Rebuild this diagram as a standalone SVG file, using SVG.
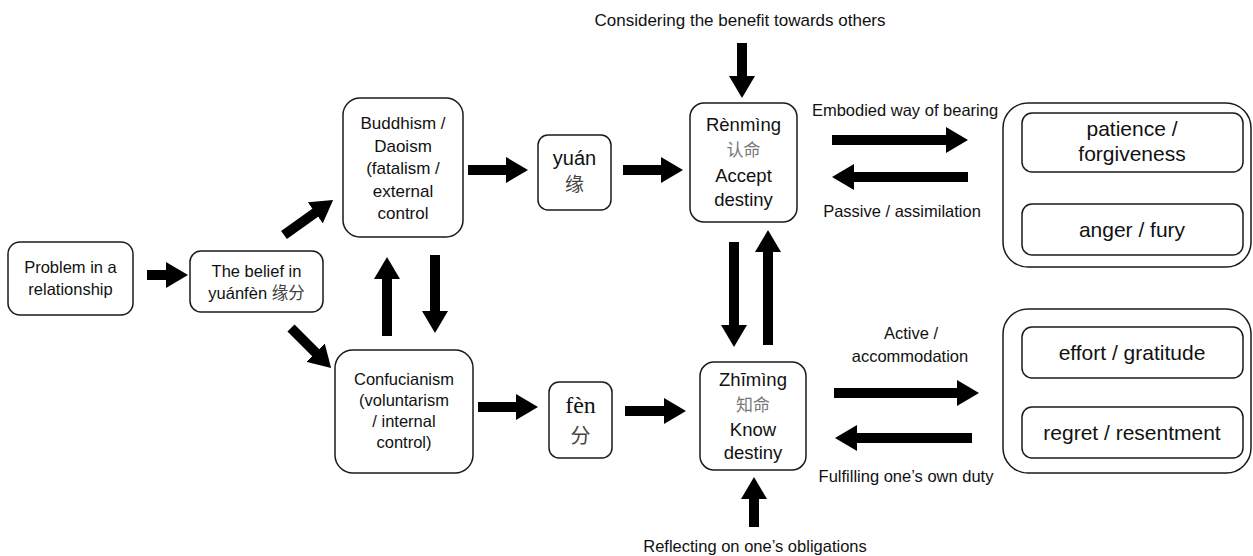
<svg xmlns="http://www.w3.org/2000/svg" width="1253" height="556" viewBox="0 0 1253 556">
<style>
.box{fill:#fff;stroke:#1a1a1a;stroke-width:1.5}
.t{font-family:"Liberation Sans",Arial,sans-serif;fill:#111;text-anchor:middle}
.cn{font-family:"Noto Sans CJK SC",sans-serif;text-anchor:middle}
.a{stroke:#000;stroke-width:10;fill:none;marker-end:url(#ah)}
.s{stroke:#000;stroke-width:1.5;fill:none;marker-end:url(#sh);marker-start:url(#sh)}
</style>
<defs>
<marker id="ah" markerUnits="userSpaceOnUse" markerWidth="22" markerHeight="26" refX="12" refY="13" orient="auto">
<path d="M0,0 L22,13 L0,26 z" fill="#000"/>
</marker>
<marker id="sh" markerUnits="userSpaceOnUse" markerWidth="7" markerHeight="8" refX="5" refY="4" orient="auto-start-reverse">
<path d="M0,0 L7,4 L0,8 z" fill="#000"/>
</marker>
</defs>
<rect width="1253" height="556" fill="#fff"/>

<g id="connectors">
<line class="a" x1="147" y1="275" x2="178" y2="275"/>
<line class="a" x1="284" y1="235" x2="325" y2="205.8"/>
<line class="a" x1="291" y1="328" x2="324" y2="361"/>
<line class="a" x1="468" y1="170" x2="518" y2="170"/>
<line class="a" x1="387" y1="336" x2="387" y2="267"/>
<line class="a" x1="435" y1="255" x2="435" y2="323"/>
<line class="a" x1="623" y1="170" x2="673" y2="170"/>
<line class="a" x1="478" y1="407" x2="528" y2="407"/>
<line class="a" x1="625" y1="411" x2="676" y2="411"/>
<line class="a" x1="742" y1="43" x2="742" y2="88"/>
<line class="a" x1="832" y1="140" x2="958" y2="140"/>
<line class="a" x1="968" y1="177" x2="842" y2="177"/>
<line class="a" x1="734" y1="242" x2="734" y2="337"/>
<line class="a" x1="768" y1="345" x2="768" y2="240"/>
<line class="a" x1="834" y1="393" x2="969" y2="393"/>
<line class="a" x1="972" y1="438" x2="845" y2="438"/>
<line class="a" x1="754" y1="527" x2="754" y2="487"/>
<line class="s" x1="1125" y1="180" x2="1125" y2="199"/>
<line class="s" x1="1132" y1="384" x2="1132" y2="401"/>
</g>

<g id="labels">
<text class="t" x="740" y="26" font-size="17">Considering the benefit towards others</text>
<text class="t" x="905" y="116" font-size="16.5">Embodied way of bearing</text>
<text class="t" x="902" y="217" font-size="16.5">Passive / assimilation</text>
<text class="t" x="911" y="339" font-size="16.5">Active /</text>
<text class="t" x="910" y="362" font-size="16.5">accommodation</text>
<text class="t" x="906" y="482" font-size="16.5">Fulfilling one’s own duty</text>
<text class="t" x="755" y="552" font-size="16.5">Reflecting on one’s obligations</text>
</g>

<g id="problem">
<rect class="box" x="8" y="242" width="125" height="73" rx="12"/>
<text class="t" x="70.5" y="273" font-size="16.5">Problem in a</text>
<text class="t" x="70.5" y="295" font-size="16.5">relationship</text>
</g>

<g id="belief">
<rect class="box" x="190" y="251" width="133" height="61" rx="11"/>
<text class="t" x="256.5" y="277" font-size="16.5">The belief in</text>
<text x="256.5" y="299" font-size="16.5" text-anchor="middle"><tspan font-family="Liberation Sans,sans-serif" fill="#111">yuánfèn </tspan><tspan font-family="Noto Sans CJK SC,sans-serif" fill="#444">缘分</tspan></text>
</g>

<g id="buddhism">
<rect class="box" x="343" y="98" width="120" height="139" rx="17"/>
<text class="t" x="403" y="129" font-size="17">Buddhism /</text>
<text class="t" x="403" y="151.5" font-size="17">Daoism</text>
<text class="t" x="403" y="174" font-size="17">(fatalism /</text>
<text class="t" x="403" y="196.5" font-size="17">external</text>
<text class="t" x="403" y="219" font-size="17">control</text>
</g>

<g id="confucianism">
<rect class="box" x="335" y="350" width="138" height="123" rx="18"/>
<text class="t" x="404" y="385" font-size="16.5">Confucianism</text>
<text class="t" x="404" y="406" font-size="16.5">(voluntarism</text>
<text class="t" x="404" y="427" font-size="16.5">/ internal</text>
<text class="t" x="404" y="448" font-size="16.5">control)</text>
</g>

<g id="yuan">
<rect class="box" x="538" y="135" width="73" height="75" rx="10"/>
<text class="t" x="574.5" y="165" font-size="20">yuán</text>
<text class="cn" x="574.5" y="191" font-size="19" fill="#444">缘</text>
</g>

<g id="fen">
<rect class="box" x="549" y="382" width="63" height="76" rx="10"/>
<text x="580.5" y="413" font-size="24" text-anchor="middle" font-family="Liberation Serif,serif" fill="#111">fèn</text>
<text class="cn" x="580.5" y="443" font-size="20" fill="#444">分</text>
</g>

<g id="renming">
<rect class="box" x="690" y="103" width="107" height="119" rx="14"/>
<text class="t" x="743.5" y="131" font-size="18.5">Rènmìng</text>
<text class="cn" x="743.5" y="156" font-size="17" fill="#777">认命</text>
<text class="t" x="743.5" y="182" font-size="18.5">Accept</text>
<text class="t" x="743.5" y="206" font-size="18.5">destiny</text>
</g>

<g id="zhiming">
<rect class="box" x="700" y="362" width="106" height="108" rx="14"/>
<text class="t" x="753" y="386" font-size="18.5">Zhīmìng</text>
<text class="cn" x="753" y="411" font-size="17" fill="#777">知命</text>
<text class="t" x="753" y="436" font-size="18.5">Know</text>
<text class="t" x="753" y="459" font-size="18.5">destiny</text>
</g>

<g id="group-bearing">
<rect class="box" x="1003" y="103" width="248" height="164" rx="25"/>
<rect class="box" x="1022" y="113" width="221" height="59" rx="10"/>
<text class="t" x="1132" y="136" font-size="21">patience /</text>
<text class="t" x="1132" y="161" font-size="21">forgiveness</text>
<rect class="box" x="1022" y="204" width="221" height="51" rx="10"/>
<text class="t" x="1132" y="237" font-size="21">anger / fury</text>
</g>

<g id="group-accommodation">
<rect class="box" x="1003" y="309" width="248" height="164" rx="25"/>
<rect class="box" x="1022" y="327" width="221" height="51" rx="10"/>
<text class="t" x="1132" y="360" font-size="21">effort / gratitude</text>
<rect class="box" x="1022" y="407" width="221" height="51" rx="10"/>
<text class="t" x="1132" y="440" font-size="21">regret / resentment</text>
</g>
</svg>
